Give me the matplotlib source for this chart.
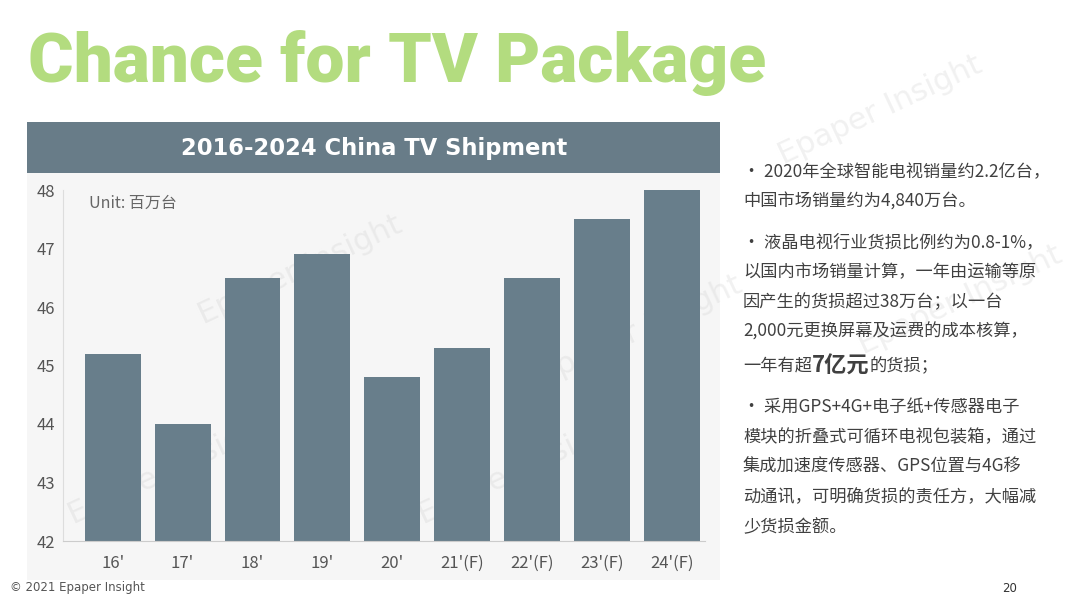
import numpy as np
import matplotlib
matplotlib.use('Agg')
import matplotlib.pyplot as plt
from matplotlib.patches import Rectangle

plt.rcParams['font.family'] = ['Noto Sans CJK SC', 'DejaVu Sans']

# chart data
years = ["16'", "17'", "18'", "19'", "20'", "21'(F)", "22'(F)", "23'(F)", "24'(F)"]
shipment = [45.2, 44.0, 46.5, 46.9, 44.8, 45.3, 46.5, 47.5, 48.0]
y_ticks = [42, 43, 44, 45, 46, 47, 48]

title = 'Chance for TV Package'
chart_title = '2016-2024 China TV Shipment'
unit_label = 'Unit: 百万台'

# right side bullet text, one entry per line
bullet_lines = [
    '• 2020年全球智能电视销量约2.2亿台，',
    '中国市场销量约为4,840万台。',
    '• 液晶电视行业货损比例约为0.8-1%，',
    '以国内市场销量计算，一年由运输等原',
    '因产生的货损超过38万台；以一台',
    '2,000元更换屏幕及运费的成本核算，',
    None,  # mixed bold line drawn separately
    '• 采用GPS+4G+电子纸+传感器电子',
    '模块的折叠式可循环电视包装箱，通过',
    '集成加速度传感器、GPS位置与4G移',
    '动通讯，可明确货损的责任方，大幅减',
    '少货损金额。',
]
line_y = [172, 202, 242, 272, 302, 332, 366, 407, 437, 467, 497, 527]
bold_line = ['一年有超', '7亿元', '的货损；']

bar_color = '#687e8b'
text_grey = '#404040'

W, H = 1080, 605
fig = plt.figure(figsize=(W / 100, H / 100), dpi=100)
fig.patch.set_facecolor('white')

def fx(px):
    return px / W

def fy(py):
    return 1 - py / H

# faint watermarks
for (wx, wy) in [(300, 270), (640, 330), (880, 110), (960, 300), (170, 470), (520, 470)]:
    fig.text(fx(wx), fy(wy), 'Epaper Insight', fontsize=22, rotation=25, color='#d0d0d0',
             alpha=0.3, ha='center', va='center', family='DejaVu Sans', zorder=0)

# big title
fig.text(fx(28), fy(63), title, fontsize=50, fontweight=900,
         color='#b3dc7f', ha='left', va='center', family=['Roboto', 'DejaVu Sans'])

# chart panel + header
fig.patches.append(Rectangle((fx(27), fy(580)), fx(693), fy(122) - fy(580),
                             transform=fig.transFigure, facecolor='#f6f6f6', edgecolor='none', zorder=0))
fig.patches.append(Rectangle((fx(27), fy(173)), fx(693), fy(122) - fy(173),
                             transform=fig.transFigure, facecolor='#687c88', edgecolor='none', zorder=1))
fig.text(fx(374), fy(149), chart_title, fontsize=16.3, fontweight='bold', color='white',
         ha='center', va='center', family='DejaVu Sans')

# bar chart
ax = fig.add_axes([fx(63), fy(541), fx(705) - fx(63), fy(190) - fy(541)], zorder=3)
ax.set_facecolor('none')
x = np.arange(len(years))
ax.bar(x, shipment, width=0.8, color=bar_color, zorder=2)
ax.set_ylim(42, 48)
ax.set_xlim(-0.71, 8.47)
ax.set_yticks(y_ticks)
ax.set_xticks(x)
ax.set_xticklabels(years)
ax.tick_params(axis='both', length=0, labelsize=12, colors='#555555')
ax.tick_params(axis='y', pad=6)
ax.tick_params(axis='x', pad=10)
for side in ['top', 'right']:
    ax.spines[side].set_visible(False)
ax.spines['left'].set_color('#dddddd')
ax.spines['bottom'].set_color('#cccccc')
ax.text(0.04, 0.985, unit_label, transform=ax.transAxes, fontsize=11.5, color='#666666',
        ha='left', va='top')

# bullet text
for line, ly in zip(bullet_lines, line_y):
    if line is None:
        continue
    fig.text(fx(743), fy(ly), line, fontsize=12.4, color=text_grey, ha='left', va='center')

# the line with bold highlight
fig.canvas.draw()
renderer = fig.canvas.get_renderer()
cur_x = fx(743)
ly = fy(366)
for i, part in enumerate(bold_line):
    if i == 1:
        t = fig.text(cur_x, ly, part, fontsize=16, fontweight='bold', color=text_grey,
                     ha='left', va='center')
    else:
        t = fig.text(cur_x, ly, part, fontsize=12.4, color=text_grey, ha='left', va='center')
    bb = t.get_window_extent(renderer)
    cur_x = bb.x1 / W

# footer
fig.text(fx(10), fy(588), '© 2021 Epaper Insight', fontsize=8.5, color='#555555',
         ha='left', va='center', family='DejaVu Sans')
fig.text(fx(1010), fy(588), '20', fontsize=8.5, color='#333333', ha='center', va='center',
         family='DejaVu Sans')

fig.savefig('out.png', dpi=100)
